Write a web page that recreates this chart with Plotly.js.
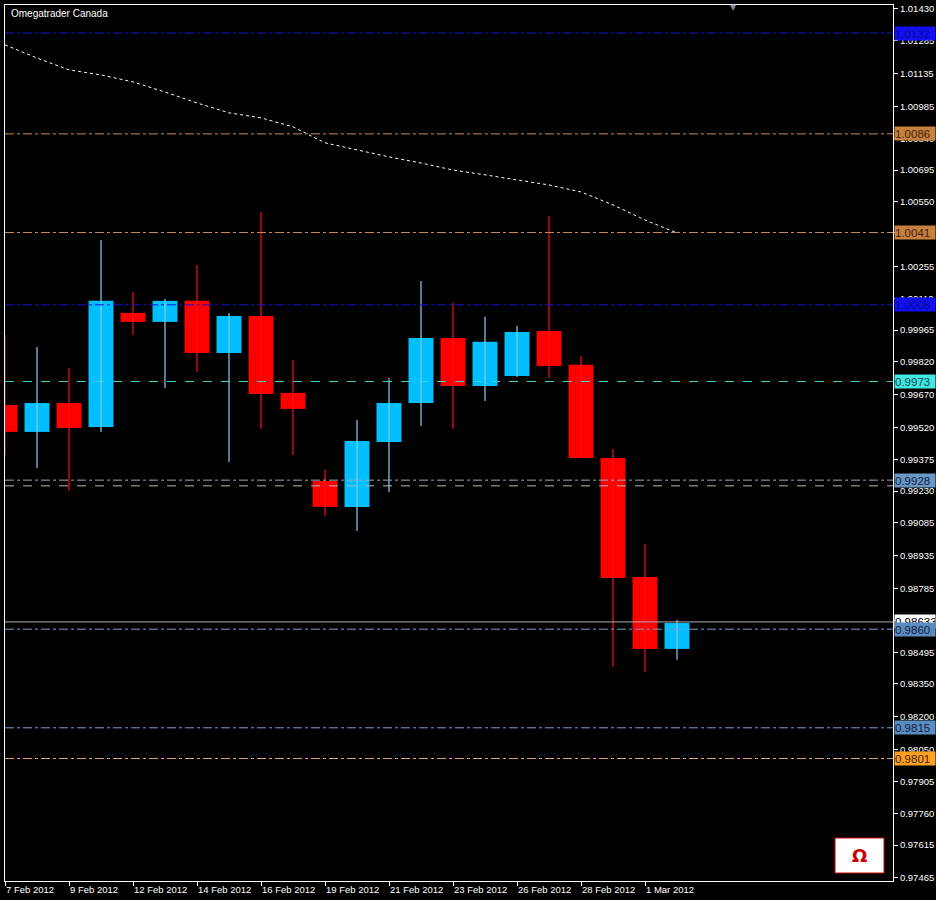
<!DOCTYPE html>
<html><head><meta charset="utf-8">
<script src="https://cdn.plot.ly/plotly-3.0.1.min.js"></script>
<style>html,body{margin:0;padding:0;background:#000;} #chart{width:936px;height:900px;}</style>
</head><body><div id="chart"></div>
<script>
// Daily bars, EUR/CAD-style quotes
const dates = ["7 Feb 2012","8 Feb 2012","9 Feb 2012","10 Feb 2012","12 Feb 2012","13 Feb 2012","14 Feb 2012","15 Feb 2012","16 Feb 2012","17 Feb 2012","19 Feb 2012","20 Feb 2012","21 Feb 2012","22 Feb 2012","23 Feb 2012","24 Feb 2012","26 Feb 2012","27 Feb 2012","28 Feb 2012","29 Feb 2012","1 Mar 2012","2 Mar 2012"];
const opens  = [0.99623,0.99500,0.99632,0.99523,1.00043,1.00002,1.00098,0.99860,1.00029,0.99678,0.99276,0.99158,0.99454,0.99632,0.99929,0.99710,0.99755,0.99961,0.99806,0.99381,0.98838,0.98510];
const highs  = [0.99943,0.99888,0.99792,1.00376,1.00139,1.00107,1.00262,1.00043,1.00504,0.99828,0.99327,0.99555,0.99746,1.00189,1.00089,1.00025,0.99984,1.00486,0.99847,0.99422,0.98989,0.98642];
const lows   = [0.99395,0.99336,0.99231,0.99500,0.99943,0.99701,0.99774,0.99363,0.99514,0.99395,0.99117,0.99048,0.99226,0.99527,0.99514,0.99641,0.99751,0.99746,0.99381,0.98428,0.98405,0.98460];
const closes = [0.99500,0.99632,0.99518,1.00098,1.00002,1.00098,0.99860,1.00029,0.99673,0.99605,0.99158,0.99459,0.99632,0.99929,0.99710,0.99911,0.99956,0.99801,0.99381,0.98834,0.98510,0.98628];
const maValues = [1.01266,1.01206,1.01152,1.01129,1.01097,1.01051,1.01001,1.00956,1.00933,1.00892,1.00819,1.00787,1.00755,1.00727,1.00695,1.00673,1.00650,1.00627,1.00595,1.00536,1.00467,1.00408];
const xTickIdx = [0,2,4,6,8,10,12,14,16,18,20];
const yTickVals = [1.01430,1.01285,1.01135,1.00985,1.00840,1.00695,1.00550,1.00410,1.00255,1.00110,0.99965,0.99820,0.99670,0.99520,0.99375,0.99230,0.99085,0.98935,0.98785,0.98640,0.98495,0.98350,0.98200,0.98050,0.97905,0.97760,0.97615,0.97465];
// Horizontal levels
const levelPrices = [1.0132,1.0086,1.0041,1.0008,0.9973,0.9928,0.99254,0.98633,0.9860,0.9815,0.9801];
const levelLabels = ["1.0132","1.0086","1.0041","1.0008","0.9973","0.9928","","0.98633","0.9860","0.9815","0.9801"];
const levelLineColors = ["#1414d8","#c98a55","#c98a55","#1414d8","#48d1cc","#9aa8b8","#b8b8b8","#b0b0b0","#7f9ccc","#7f9ccc","#e0a070"];
const levelDash = ["dashdot","dashdot","dashdot","dashdot","dash","dashdot","dash","solid","dashdot","dashdot","dashdot"];
const levelBoxColors = ["#1010f0","#c8803e","#c8803e","#1010f0","#40e8e0","#6a98c4","","#ffffff","#5b8cc0","#5b8cc0","#ffa020"];
const levelTextColors = ["#0a0a90","#402010","#402010","#0a0a90","#104850","#102040","","#000000","#102040","#102040","#402000"];

const idx = dates.map((d,i)=>i);
const upI = idx.filter(i=>closes[i]>=opens[i]);
const dnI = idx.filter(i=>closes[i]<opens[i]);

function wicks(list){
  const x=[],y=[];
  list.forEach(i=>{x.push(i,i,null);y.push(lows[i],highs[i],null);});
  return {x,y};
}
const wu = wicks(upI), wd = wicks(dnI);

const traces = [
  {type:'scatter',mode:'lines',x:maValues.map((v,i)=>i),y:maValues,line:{color:'#ffffff',width:1,dash:'dot'},hoverinfo:'skip'},
  {type:'scatter',mode:'lines',x:wu.x,y:wu.y,line:{color:'#87cefa',width:1.2},hoverinfo:'skip',connectgaps:false},
  {type:'scatter',mode:'lines',x:wd.x,y:wd.y,line:{color:'#ff1010',width:1.2},hoverinfo:'skip',connectgaps:false},
  {type:'bar',x:upI,base:upI.map(i=>opens[i]),y:upI.map(i=>closes[i]-opens[i]),width:0.78,marker:{color:'#00bfff',line:{width:0}}},
  {type:'bar',x:dnI,base:dnI.map(i=>closes[i]),y:dnI.map(i=>opens[i]-closes[i]),width:0.78,marker:{color:'#ff0000',line:{width:0}}}
];

const shapes = levelPrices.map((p,k)=>({type:'line',xref:'paper',x0:0,x1:1,yref:'y',y0:p,y1:p,line:{color:levelLineColors[k],width:1,dash:levelDash[k]},layer:'above'}));
// logo
shapes.push({type:'rect',xref:'paper',yref:'paper',x0:0.9347,x1:0.9899,y0:0.0091,y1:0.0491,fillcolor:'#ffffff',line:{color:'#cc0000',width:1},layer:'above'});

const annotations = [];
levelPrices.forEach((p,k)=>{
  if(!levelLabels[k]) return;
  annotations.push({xref:'paper',x:1.001,xanchor:'left',yref:'y',y:p,yanchor:'middle',text:levelLabels[k],showarrow:false,
    bgcolor:levelBoxColors[k],font:{family:'Liberation Sans, Arial, sans-serif',size:11.5,color:levelTextColors[k]},width:40,height:13,align:'left',borderpad:0});
});
annotations.push({xref:'paper',yref:'paper',x:0.005,y:0.999,xanchor:'left',yanchor:'top',text:'Omegatrader Canada',showarrow:false,font:{family:'Liberation Sans, Arial, sans-serif',size:10,color:'#ffffff'}});
annotations.push({xref:'paper',yref:'paper',x:0.82,y:1.004,xanchor:'center',yanchor:'top',text:'▼',showarrow:false,font:{family:'DejaVu Sans',size:8,color:'#7f8a99'}});
annotations.push({xref:'paper',yref:'paper',x:0.9623,y:0.0291,xanchor:'center',yanchor:'middle',text:'<b>Ω</b>',showarrow:false,font:{family:'DejaVu Sans',size:18,color:'#cc0000'}});

const layout = {
  width:936,height:900,
  paper_bgcolor:'#000000',plot_bgcolor:'#000000',
  margin:{l:5,r:43,t:5,b:19},
  showlegend:false,barmode:'overlay',
  xaxis:{range:[0,27.75],tickmode:'array',tickvals:xTickIdx,ticktext:xTickIdx.map(i=>dates[i]),
    ticks:'outside',ticklen:4,tickcolor:'#ffffff',ticklabelposition:'outside right',
    showline:true,linecolor:'#ffffff',linewidth:1,mirror:true,showgrid:false,zeroline:false,
    tickfont:{family:'Liberation Sans, Arial, sans-serif',size:9.5,color:'#ffffff'}},
  yaxis:{range:[0.97451,1.01448],side:'right',tickmode:'array',tickvals:yTickVals,ticktext:yTickVals.map(v=>v.toFixed(5)),
    ticks:'outside',ticklen:4,tickcolor:'#ffffff',
    showline:true,linecolor:'#ffffff',linewidth:1,mirror:true,showgrid:false,zeroline:false,
    tickfont:{family:'Liberation Sans, Arial, sans-serif',size:9.5,color:'#ffffff'}},
  shapes:shapes,annotations:annotations
};
Plotly.newPlot('chart',traces,layout,{staticPlot:true,displayModeBar:false});
</script></body></html>
